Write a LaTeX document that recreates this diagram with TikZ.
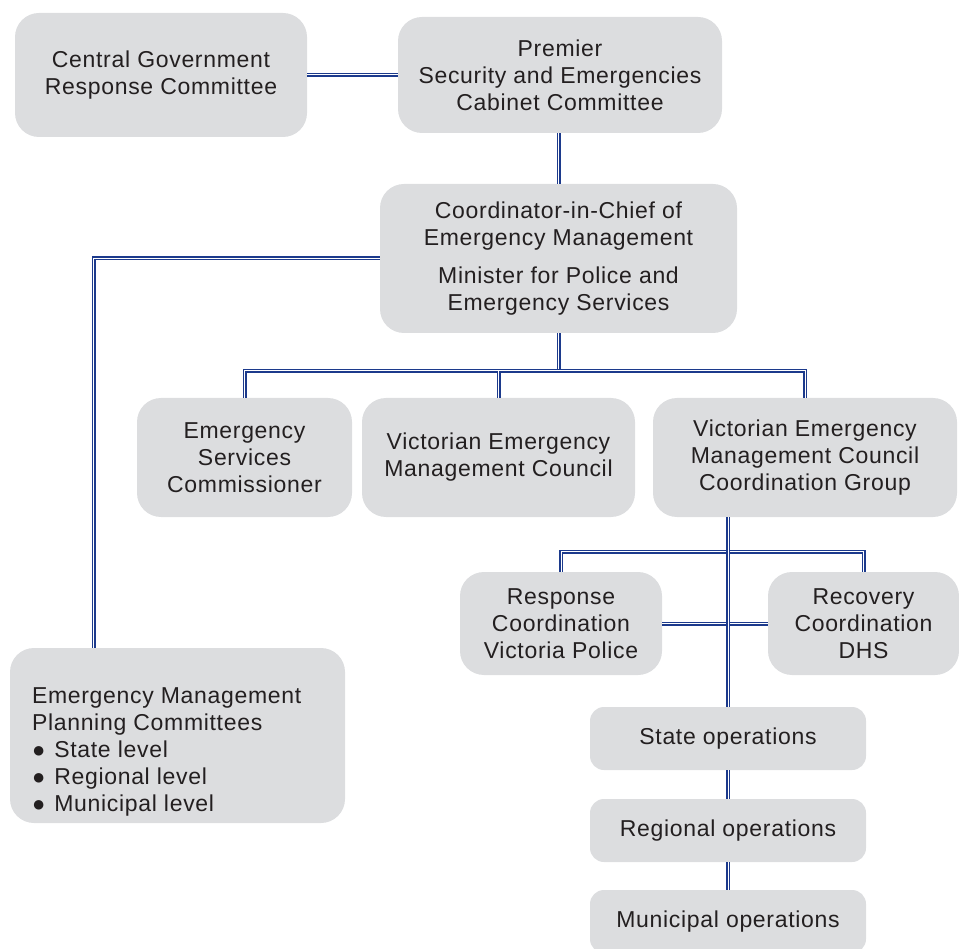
\documentclass[tikz,border=0pt]{standalone}
\usepackage{fontspec}
\setmainfont[LetterSpace=3]{Liberation Sans}
\usetikzlibrary{positioning, calc}
\definecolor{boxgray}{HTML}{DCDDDF}
\definecolor{linkblue}{HTML}{1C3A8C}
\definecolor{textdark}{HTML}{231F20}
\tikzset{link/.style = { draw = linkblue, double = white, double distance = 1pt, line width = 1.5pt }}
\newcommand{\blt}{{\fontsize{22}{27}\selectfont\char"25CF}\hspace{9pt}}

\begin{document}
\begin{tikzpicture}[x = 1pt, y = 1pt, box/.style = { fill = boxgray, rounded corners = 24pt, align = center, inner sep = 0pt, text = textdark, font = \fontsize{23}{27}\selectfont }, opsbox/.style = { box, rounded corners = 14pt, minimum width = 276pt, minimum height = 63pt }]
				\useasboundingbox (0, 0) rectangle (959, -949);

				\node [box, minimum width = 292pt, minimum height = 124pt] (cgrc) at (161, -75) {Central Government\\Response Committee};
				\node [box, minimum width = 324pt, minimum height = 116pt] (premier) at (560, -75) {Premier\\Security and Emergencies\\Cabinet Committee};
				\node [box, minimum width = 357pt, minimum height = 149pt] (coord) at (558.5, -258.5) {Coordinator-in-Chief of\\Emergency Management\\[11pt]Minister for Police and\\Emergency Services};

				\node [box, minimum width = 215pt, minimum height = 119pt] (esc) at (244.5, -457.5) {Emergency\\Services\\Commissioner};
				\node [box, minimum width = 273pt, minimum height = 119pt] (vemc) at (498.5, -457.5) {Victorian Emergency\\Management Council};
				\node [box, minimum width = 304pt, minimum height = 119pt] (vemccg) at (805, -457.5) {Victorian Emergency\\Management Council\\Coordination Group};

				\node [box, minimum width = 202pt, minimum height = 103pt] (resp) at (561, -623.5) {Response\\Coordination\\Victoria Police};
				\node [box, minimum width = 191pt, minimum height = 103pt] (recov) at (863.5, -623.5) {Recovery\\Coordination\\DHS};

				\node [box, minimum width = 335pt, minimum height = 175pt] (empc) at (177.5, -735.5) {};
				\node [box, fill = none, align = left, anchor = north west] (empctxt) at ([xshift = 22pt, yshift = -40pt]empc.north west) {Emergency Management\\Planning Committees\\\blt State level\\\blt Regional level\\\blt Municipal level};

				\node [opsbox] (stateops) at (728, -738.5) {State operations};
				\node [opsbox] (regops) at (728, -830.5) {Regional operations};
				\node [opsbox] (munops) at (728, -921.5) {Municipal operations};

				\draw [link] (cgrc) -- (premier);
				\draw [link] (premier.south -| coord.north) -- (coord.north);

				\draw [link] (coord.south) -- ++(0, -38);
				\draw [link] (esc.north) -- ++(0, 27) -| (vemccg.north);
				\draw [link] (vemc.north) -- ++(0, 27);

				\draw [link] (coord.west) -| ($(empc.north west)!0.25!(empc.north east)$);

				\draw [link] (resp.north) -- ++(0, 20) -| (recov.north);
				\draw [link] (resp) -- (recov);
				\draw [link] (vemccg.south -| stateops.north) -- (stateops.north);

				\draw [link] (stateops) -- (regops);
				\draw [link] (regops) -- (munops);
			\end{tikzpicture}
\end{document}
